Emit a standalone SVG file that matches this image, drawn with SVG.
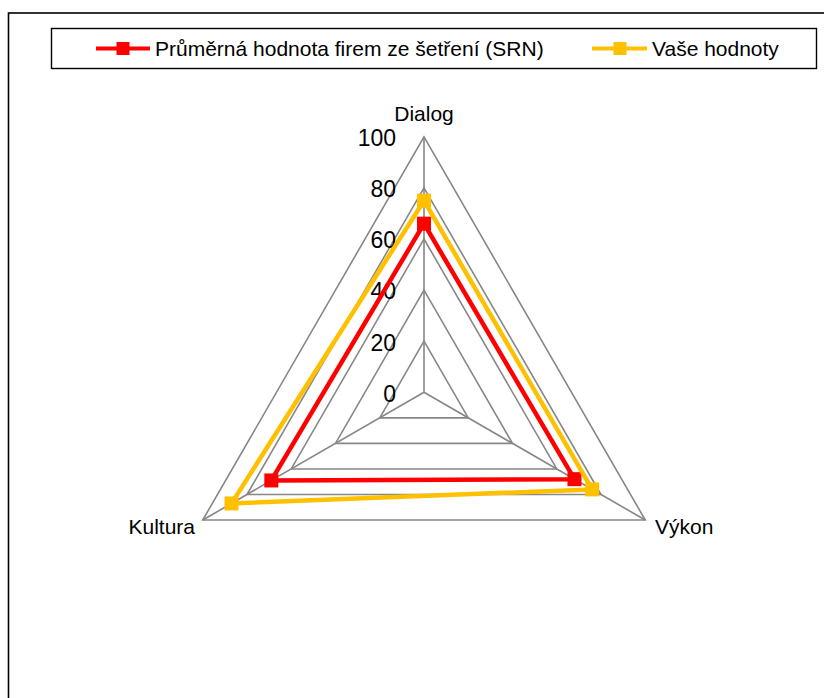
<svg xmlns="http://www.w3.org/2000/svg" width="824" height="698" viewBox="0 0 824 698">
<style>
text{font-family:"Liberation Sans",Arial,sans-serif;fill:#000}
.lbl{font-size:21px}
.num{font-size:23px;text-anchor:end}
.grid{fill:none;stroke:#878787;stroke-width:1.6}
.s1{fill:none;stroke:#FF0000;stroke-width:4.5;stroke-linejoin:round}
.s2{fill:none;stroke:#FFC000;stroke-width:4.5;stroke-linejoin:round}
.m1{fill:#FF0000}
.m2{fill:#FFC000}
</style>
<defs>
<rect id="mk" x="-7" y="-7" width="14" height="14"/>
<rect id="mkl" x="-6.5" y="-6.5" width="13" height="13"/>
</defs>
<rect x="0" y="0" width="824" height="698" fill="#fff"/>
<g id="frame">
<rect x="8.5" y="13" width="830" height="700" fill="none" stroke="#000" stroke-width="1.6"/>
</g>
<g id="legend">
<rect x="51.5" y="28.5" width="765" height="40" fill="#fff" stroke="#000" stroke-width="1.4"/>
<line x1="96" y1="48.5" x2="150" y2="48.5" stroke="#FF0000" stroke-width="4"/>
<use href="#mkl" x="123" y="48.5" class="m1"/>
<text class="lbl" x="155" y="56">Průměrná hodnota firem ze šetření (SRN)</text>
<line x1="592" y1="48.5" x2="647" y2="48.5" stroke="#FFC000" stroke-width="4"/>
<use href="#mkl" x="620" y="48.5" class="m2"/>
<text class="lbl" x="652" y="56">Vaše hodnoty</text>
</g>
<g id="grid">
<polygon class="grid" points="424,136.8 645.27,520.05 202.73,520.05"/>
<polygon class="grid" points="424,187.9 601.02,494.5 246.98,494.5"/>
<polygon class="grid" points="424,239.0 556.76,468.95 291.24,468.95"/>
<polygon class="grid" points="424,290.1 512.51,443.4 335.49,443.4"/>
<polygon class="grid" points="424,341.2 468.25,417.85 379.75,417.85"/>
<line class="grid" x1="424" y1="392.3" x2="424" y2="136.8"/>
<line class="grid" x1="424" y1="392.3" x2="645.27" y2="520.05"/>
<line class="grid" x1="424" y1="392.3" x2="202.73" y2="520.05"/>
</g>
<g id="axis-values">
<text class="num" x="396" y="146">100</text>
<text class="num" x="396" y="197">80</text>
<text class="num" x="396" y="248">60</text>
<text class="num" x="396" y="299">40</text>
<text class="num" x="396" y="351">20</text>
<text class="num" x="396" y="402">0</text>
</g>
<g id="axis-labels">
<text class="lbl" x="424" y="121" text-anchor="middle">Dialog</text>
<text class="lbl" x="655" y="534">Výkon</text>
<text class="lbl" x="195" y="534" text-anchor="end">Kultura</text>
</g>
<g id="series-prumer">
<polygon class="s1" points="424,223.67 574.46,479.17 271.32,480.45"/>
<use href="#mk" x="424" y="223.67" class="m1"/>
<use href="#mk" x="574.46" y="479.17" class="m1"/>
<use href="#mk" x="271.32" y="480.45" class="m1"/>
</g>
<g id="series-vase">
<polygon class="s2" points="424,200.68 592.17,489.39 231.5,503.44"/>
<use href="#mk" x="424" y="200.68" class="m2"/>
<use href="#mk" x="592.17" y="489.39" class="m2"/>
<use href="#mk" x="231.5" y="503.44" class="m2"/>
</g>
</svg>
